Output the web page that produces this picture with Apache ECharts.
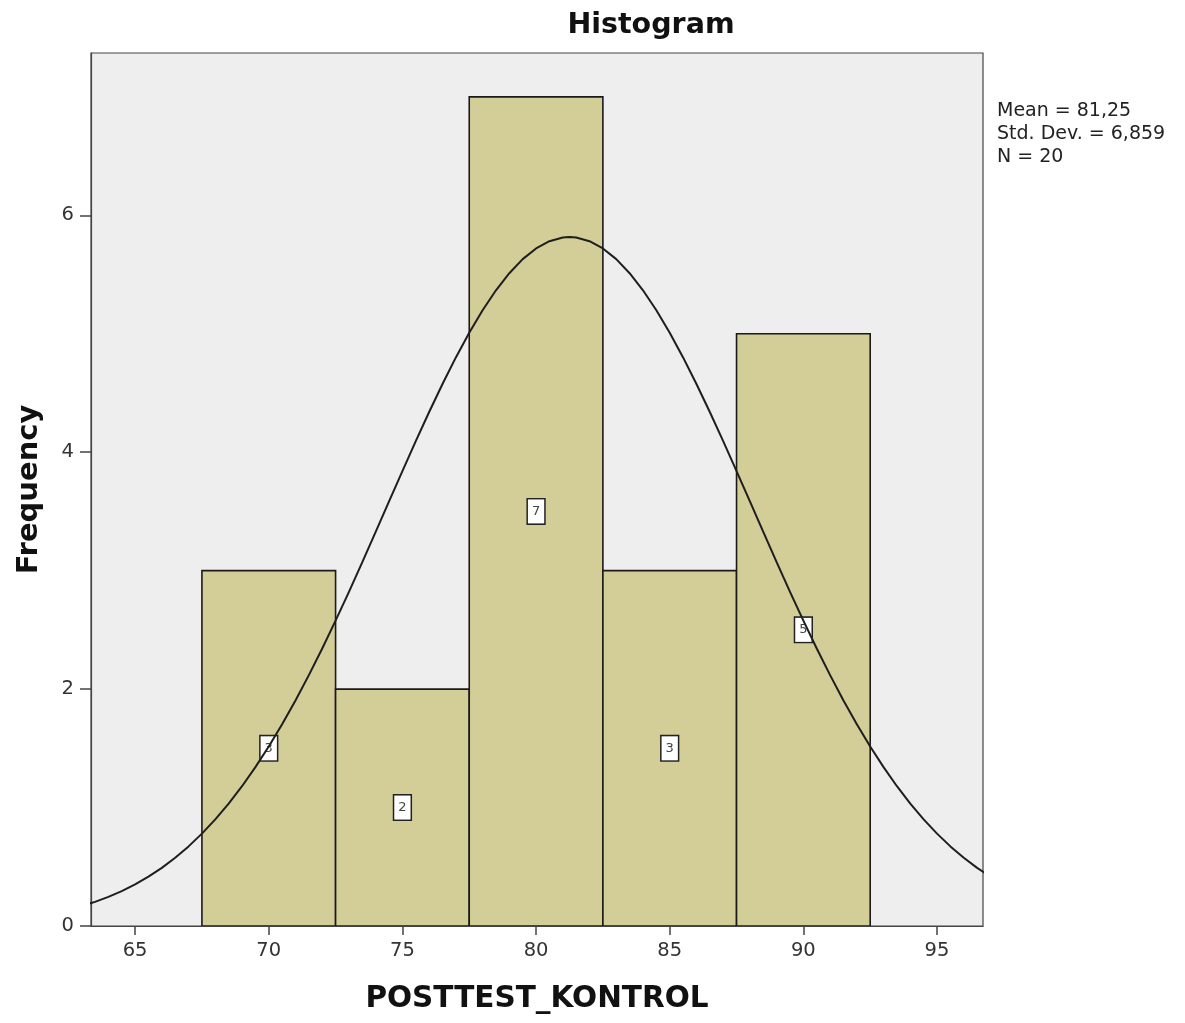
<!DOCTYPE html>
<html>
<head>
<meta charset="utf-8">
<script src="https://cdn.jsdelivr.net/npm/echarts@6/dist/echarts.min.js"></script>
<style>
html,body{margin:0;padding:0;background:#fff;}
#main{width:1185px;height:1023px;}
</style>
</head>
<body>
<div id="main"></div>
<script>
const binCenters = [70, 75, 80, 85, 90];
const counts = [3, 2, 7, 3, 5];
const binWidth = 5;
const curveX = [63,63.5,64,64.5,65,65.5,66,66.5,67,67.5,68,68.5,69,69.5,70,70.5,71,71.5,72,72.5,73,73.5,74,74.5,75,75.5,76,76.5,77,77.5,78,78.5,79,79.5,80,80.5,81,81.25,81.5,82,82.5,83,83.5,84,84.5,85,85.5,86,86.5,87,87.5,88,88.5,89,89.5,90,90.5,91,91.5,92,92.5,93,93.5,94,94.5,95,95.5,96,96.5,97];
const curveY = [0.169,0.204,0.246,0.295,0.351,0.417,0.491,0.576,0.672,0.780,0.900,1.033,1.180,1.341,1.515,1.703,1.904,2.118,2.343,2.578,2.821,3.072,3.327,3.584,3.840,4.093,4.339,4.576,4.800,5.009,5.198,5.367,5.511,5.630,5.720,5.781,5.812,5.816,5.812,5.781,5.720,5.630,5.511,5.367,5.198,5.009,4.800,4.576,4.339,4.093,3.840,3.584,3.327,3.072,2.821,2.578,2.343,2.118,1.904,1.703,1.515,1.341,1.180,1.033,0.900,0.780,0.672,0.576,0.491,0.417];
const xTicks = [65, 70, 75, 80, 85, 90, 95];
const yTicks = [0, 2, 4, 6];
const statsLines = ['Mean = 81,25', 'Std. Dev. = 6,859', 'N = 20'];
const titleText = 'Histogram';
const xName = 'POSTTEST_KONTROL';
const yName = 'Frequency';

const FONT = 'DejaVu Sans, sans-serif';
const chart = echarts.init(document.getElementById('main'));

const barData = binCenters.map((c, i) => [c, counts[i]]);
const curveData = curveX.map((x, i) => [x, curveY[i]]);

chart.setOption({
  animation: false,
  backgroundColor: '#ffffff',
  title: {
    text: titleText,
    left: 646, top: 6,
    textAlign: 'center',
    textStyle: {fontFamily: FONT, fontSize: 28.5, fontWeight: 'bold', color: '#111'}
  },
  graphic: [{
    type: 'text',
    left: 997, top: 100,
    style: {
      text: statsLines.join('\n'),
      fontFamily: FONT, fontSize: 19, lineHeight: 23, fill: '#222'
    }
  }],
  grid: {
    left: 91, right: 202, top: 53, bottom: 97,
    show: true, backgroundColor: '#eeeeee', borderColor: '#444', borderWidth: 1.2
  },
  xAxis: {
    type: 'value', min: 63.35, max: 96.72,
    name: xName, nameLocation: 'middle', nameGap: 58,
    nameTextStyle: {fontFamily: FONT, fontSize: 29.5, fontWeight: 'bold', color: '#111'},
    axisLine: {show: true, lineStyle: {color: '#444', width: 1.2}},
    axisTick: {show: true, length: 9, customValues: xTicks, lineStyle: {color: '#444', width: 1.5}},
    axisLabel: {customValues: xTicks, margin: 15, fontFamily: FONT, fontSize: 19.5, color: '#333'},
    splitLine: {show: false}
  },
  yAxis: {
    type: 'value', min: 0, max: 7.37,
    name: yName, nameLocation: 'middle', nameGap: 47,
    nameTextStyle: {fontFamily: FONT, fontSize: 29, fontWeight: 'bold', color: '#111'},
    axisLine: {show: true, lineStyle: {color: '#444', width: 1.2}},
    axisTick: {show: true, length: 11, customValues: yTicks, lineStyle: {color: '#444', width: 1.5}},
    axisLabel: {customValues: yTicks, margin: 17, fontFamily: FONT, fontSize: 19.5, color: '#333'},
    splitLine: {show: false}
  },
  series: [
    {
      type: 'custom',
      data: barData,
      clip: true,
      renderItem: function (params, api) {
        const c = api.value(0), h = api.value(1);
        const p0 = api.coord([c - binWidth / 2, h]);
        const p1 = api.coord([c + binWidth / 2, 0]);
        return {
          type: 'rect',
          shape: {x: p0[0], y: p0[1], width: p1[0] - p0[0], height: p1[1] - p0[1]},
          style: {fill: '#d3ce97', stroke: '#1a1a1a', lineWidth: 1.6}
        };
      }
    },
    {
      type: 'custom',
      data: barData,
      renderItem: function (params, api) {
        const c = api.value(0), h = api.value(1);
        const p = api.coord([c, h / 2]);
        return {
          type: 'text',
          x: p[0], y: p[1],
          style: {
            text: String(h), fontFamily: FONT, fontSize: 13, fill: '#444',
            align: 'center', verticalAlign: 'middle',
            backgroundColor: '#ffffff', borderColor: '#222', borderWidth: 1.5,
            padding: [6, 4, 5, 4]
          }
        };
      }
    },
    {
      type: 'line',
      data: curveData,
      smooth: false,
      symbol: 'none',
      clip: true,
      lineStyle: {color: '#1e1e1e', width: 2, join: 'round'},
      z: 5
    }
  ]
});
</script>
</body>
</html>
